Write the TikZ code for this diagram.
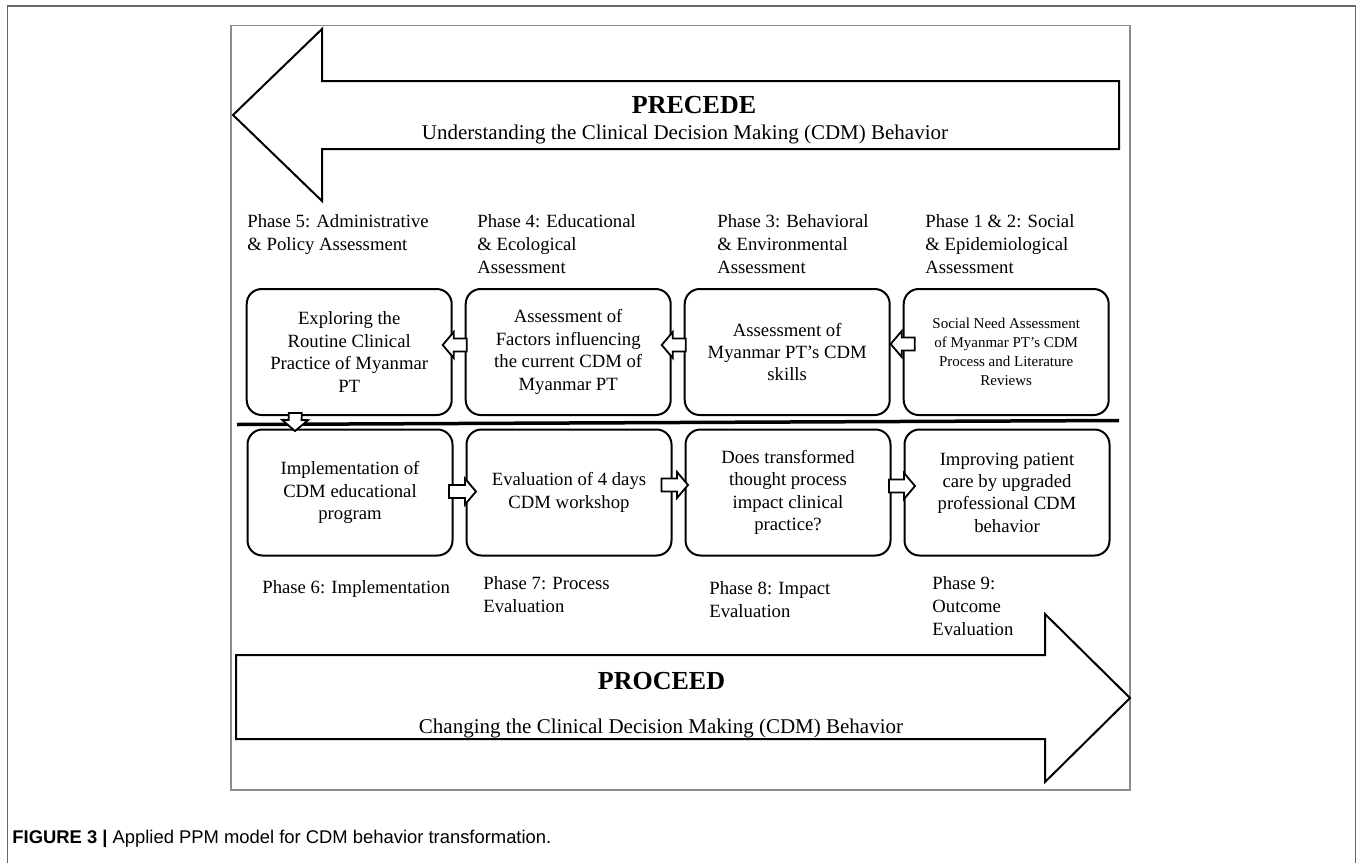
\documentclass[tikz,border=0pt]{standalone}
\usepackage{fontspec}
\setmainfont{Liberation Serif}
\newfontfamily\capfont{Liberation Sans}
\usetikzlibrary{positioning,calc}
\definecolor{framegray}{RGB}{105,105,105}
\definecolor{innergray}{RGB}{140,140,140}
\tikzset{
  phbox/.style={draw, line width=1pt, rounded corners=7.5pt, fill=white,
                align=center, minimum width=102.5pt, minimum height=63pt,
                inner sep=2pt, font=\fontsize{9.35}{11.2}\selectfont},
  phlbl/.style={anchor=north west, align=left, inner sep=0pt,
                font=\fontsize{9.35}{11.5}\selectfont},
  bigarr/.style={draw, line width=1pt, line join=miter},
  hollow/.style={draw, line width=0.9pt, fill=white, line join=miter,
    to path={let \p1=(\tikztostart), \p2=(\tikztotarget),
                 \n1={atan2(\y2-\y1,\x2-\x1)} in
      ($(\p1)+(\n1+90:3.25pt)$) -- ($(\p2)+(\n1+180:5.5pt)+(\n1+90:3.25pt)$)
      -- ($(\p2)+(\n1+180:5.5pt)+(\n1+90:6.5pt)$) -- (\p2)
      -- ($(\p2)+(\n1+180:5.5pt)+(\n1-90:6.5pt)$)
      -- ($(\p2)+(\n1+180:5.5pt)+(\n1-90:3.25pt)$)
      -- ($(\p1)+(\n1-90:3.25pt)$) -- cycle}}
}
\begin{document}
\begin{tikzpicture}[x=0.5pt, y=-0.5pt, node distance=6pt]
  \useasboundingbox (0,0) rectangle (1358,862);
  % frames
  \draw[framegray, line width=0.9pt] (7.5,875) -- (7.5,6) -- (1355.5,6) -- (1355.5,875);
  \draw[innergray, line width=0.9pt] (231,25.5) rectangle (1130,790);

  % PRECEDE arrow
  \draw[bigarr] (233,115) -- (322,29) -- (322,81) -- (1119,81) -- (1119,149)
    -- (322,149) -- (322,201) -- cycle;
  \node[anchor=base, font=\fontsize{13}{15}\selectfont\bfseries] (precede) at (694,113) {PRECEDE};
  \node[anchor=base, font=\fontsize{10.5}{12}\selectfont] (precsub) at (685,139)
    {Understanding the Clinical Decision Making (CDM) Behavior};

  % phase labels, top
  \node[phlbl] (ph5) at (247,214) {Phase 5: Administrative\\\& Policy Assessment};
  \node[phlbl] (ph4) at (477,214) {Phase 4: Educational\\\& Ecological\\Assessment};
  \node[phlbl] (ph3) at (717,214) {Phase 3: Behavioral\\\& Environmental\\Assessment};
  \node[phlbl] (ph12) at (925,214) {Phase 1 \& 2: Social\\\& Epidemiological\\Assessment};

  % assessment boxes
  \node[phbox] (rout) at (349.2,352) {Exploring the\\Routine Clinical\\Practice of Myanmar\\PT};
  \node[phbox, right=of rout] (fac) {Assessment of\\Factors influencing\\the current CDM of\\Myanmar PT};
  \node[phbox, right=of fac] (skl) {Assessment of\\Myanmar PT's CDM\\skills};
  \node[phbox, right=of skl, font=\fontsize{7.5}{9.5}\selectfont] (soc)
    {Social Need Assessment\\of Myanmar PT's CDM\\Process and Literature\\Reviews};

  \draw[line width=1.75pt] (237,424.5) -- (1119,420.5);

  % implementation boxes
  \node[phbox] (impl) at (350,492.5) {Implementation of\\CDM educational\\program};
  \node[phbox, right=of impl] (eval) {Evaluation of 4 days\\CDM workshop};
  \node[phbox, right=of eval] (imp) {Does transformed\\thought process\\impact clinical\\practice?};
  \node[phbox, right=of imp] (out) {Improving patient\\care by upgraded\\professional CDM\\behavior};

  \draw[hollow] ([shift={(2,-7)}]fac.west) to ([shift={(-10,-7)}]rout.east);
  \draw[hollow] ([shift={(2,-7)}]skl.west) to ([shift={(-10,-7)}]fac.east);
  \draw[hollow] ([shift={(12,-8)}]soc.west) to ([shift={(0,-8)}]skl.east);
  \draw[hollow] ([shift={(-54,-3)}]rout.south) to ([shift={(-55,2.5)}]impl.north);
  \draw[hollow] ([shift={(-4.5,-1)}]impl.east) to ([shift={(10.5,-1)}]eval.west);
  \draw[hollow] ([shift={(-11,-7.5)}]eval.east) to ([shift={(3.5,-7.5)}]imp.west);
  \draw[hollow] ([shift={(-2.5,-6.5)}]imp.east) to ([shift={(11.5,-6.5)}]out.west);

  % phase labels, bottom
  \node[phlbl] (ph6) at (262,580) {Phase 6: Implementation};
  \node[phlbl] (ph7) at (483,576) {Phase 7: Process\\Evaluation};
  \node[phlbl] (ph8) at (709,581) {Phase 8: Impact\\Evaluation};
  \node[phlbl] (ph9) at (932,576) {Phase 9:\\Outcome\\Evaluation};

  % PROCEED arrow
  \draw[bigarr] (236,655) -- (1045,655) -- (1045,614) -- (1130,698) -- (1045,782)
    -- (1045,739) -- (236,739) -- cycle;
  \node[anchor=base, font=\fontsize{13}{15}\selectfont\bfseries] (proceed) at (661.5,689) {PROCEED};
  \node[anchor=base, font=\fontsize{10.5}{12}\selectfont] (procsub) at (661,733)
    {Changing the Clinical Decision Making (CDM) Behavior};

  \node[anchor=base west, inner sep=0pt, font=\capfont\fontsize{9.2}{11}\selectfont] (cap) at (12,843)
    {\textbf{FIGURE 3 |} Applied PPM model for CDM behavior transformation.};
\end{tikzpicture}
\end{document}
